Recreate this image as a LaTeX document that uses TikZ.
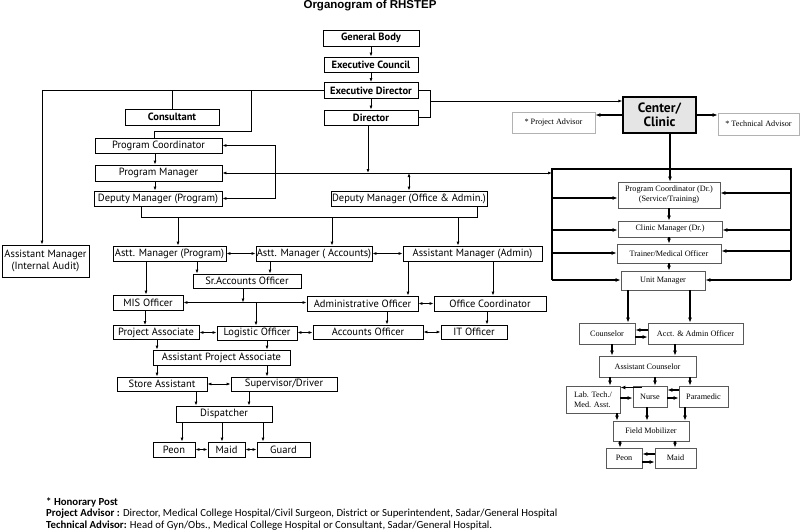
\documentclass[tikz,border=0pt]{standalone}
\usepackage{fontspec}
\setmainfont{PT Sans}
\newfontfamily\serifrm{Liberation Serif}
\newfontfamily\titlefont{Liberation Sans}
\newfontfamily\notefont{Carlito}
\usetikzlibrary{arrows.meta}
\newcommand\vlk[4][arr]{\coordinate (vx) at (#4,0); \draw[#1] (#2.south -| vx) -- (#3.north -| vx);}
\newcommand\hlk[4][darr]{\coordinate (hy) at (0,#4); \draw[#1] (#2.east |- hy) -- (#3.west |- hy);}
\begin{document}
\begin{tikzpicture}[x=1pt,y=-1pt,
  sz/.style 2 args={minimum width=#1, minimum height=#2},
  lb/.style={draw, line width=0.8pt, inner sep=0pt, align=center, font=\fontsize{10.5}{11.5}\selectfont},
  tb/.style={lb, font=\bfseries\fontsize{10.5}{11.5}\selectfont},
  rb/.style={draw=black!65, line width=0.8pt, inner sep=0pt, align=center, font=\serifrm\fontsize{8.2}{10}\selectfont},
  adv/.style={rb, draw=black!30},
  con/.style={line width=0.8pt},
  arr/.style={con, -{Latex[length=4pt,width=3pt]}},
  darr/.style={con, {Latex[length=4pt,width=3pt]}-{Latex[length=4pt,width=3pt]}},
  rcon/.style={line width=1.1pt},
  rarr/.style={rcon, -{Latex[length=5pt,width=4pt]}},
]
\useasboundingbox[fill=white] (0,0) rectangle (800,532);

\node[font=\titlefont\bfseries\fontsize{11.5}{13}\selectfont] (title) at (370,6) {Organogram of RHSTEP};

% top chain
\node[tb, sz={96}{16}] (gb) at (371,38) {General Body};
\node[tb, sz={94}{15}] (ec) at (371,64.5) {Executive Council};
\node[tb, sz={94}{16}] (ed) at (371,90.5) {Executive Director};
\node[tb, sz={94}{15}] (dir) at (371,117.5) {Director};
\node[tb, sz={94}{16}] (cons) at (172,117) {Consultant};

% left column
\node[lb, sz={127}{15}] (pc) at (158.5,145.5) {Program Coordinator};
\node[lb, sz={127}{16}] (pm) at (158.5,173) {Program Manager};
\node[lb, sz={128}{15}] (dmp) at (158,198.5) {Deputy Manager (Program)};
\node[lb, sz={156}{15}] (dmoa) at (409,198.5) {Deputy Manager (Office \& Admin.)};
\node[lb, sz={87}{32}] (amia) at (45.5,261) {Assistant Manager\\(Internal Audit)};
\node[lb, sz={113}{15}] (amp) at (169.5,253.5) {Astt. Manager (Program)};
\node[lb, sz={116}{15}] (amacc) at (314,253.5) {Astt. Manager ( Accounts)};
\node[lb, sz={139}{15}] (amadm) at (472.5,253.5) {Assistant Manager (Admin)};
\node[lb, sz={108}{14}] (sao) at (247,281) {Sr.Accounts Officer};
\node[lb, sz={70}{15}] (mis) at (148,302.5) {MIS Officer};
\node[lb, sz={111}{15}] (ao) at (362.5,303.5) {Administrative Officer};
\node[lb, sz={112}{15}] (oc) at (490,303.5) {Office Coordinator};
\node[lb, sz={86}{14}] (pa) at (156,332.5) {Project Associate};
\node[lb, sz={80}{14}] (lo) at (257,333) {Logistic Officer};
\node[lb, sz={110}{14}] (acco) at (368,332) {Accounts Officer};
\node[lb, sz={66}{14}] (ito) at (474,332) {IT Officer};
\node[lb, sz={137}{15}] (apa) at (221.5,357.5) {Assistant Project Associate};
\node[lb, sz={90}{14}] (sa) at (162,384) {Store Assistant};
\node[lb, sz={106}{14}] (sd) at (284,384) {Supervisor/Driver};
\node[lb, sz={96}{16}] (disp) at (224,414) {Dispatcher};
\node[lb, sz={42}{15}] (peon) at (174,449.5) {Peon};
\node[lb, sz={37}{15}] (maid) at (226.5,449.5) {Maid};
\node[lb, sz={53}{15}] (guard) at (283.5,449.5) {Guard};

% right side
\node[draw, line width=1.3pt, fill=black!10, inner sep=0pt, sz={73}{36}, align=center,
  font=\bfseries\fontsize{13.5}{14}\selectfont] (cc) at (659.5,115) {Center/\\Clinic};
\node[adv, sz={83}{21}] (pja) at (553.5,122.5) {* Project Advisor};
\node[adv, sz={81}{22}] (ta) at (758.5,124) {* Technical Advisor};
\node[rb, sz={102}{26}] (pcd) at (669,195) {Program Coordinator (Dr.)\\(Service/Training)};
\node[rb, sz={104}{16}] (cmd) at (670,229) {Clinic Manager (Dr.)};
\node[rb, sz={104}{19}] (tmo) at (669,253.5) {Trainer/Medical Officer};
\node[rb, sz={84}{19}] (um) at (663,280.5) {Unit Manager};
\node[rb, sz={56}{21}] (couns) at (607,333.5) {Counselor};
\node[rb, sz={95}{21}] (aao) at (695.5,333.5) {Acct. \& Admin Officer};
\node[rb, sz={97}{21}] (ac) at (647.5,366.5) {Assistant Counselor};
\node[rb, sz={54}{27}, align=left] (lab) at (593,399.5) {Lab. Tech./\\Med. Asst.};
\node[rb, sz={34}{21}] (nurse) at (650,396.5) {Nurse};
\node[rb, sz={49}{21}] (para) at (703.5,396.5) {Paramedic};
\node[rb, sz={76}{20}] (fm) at (651,431) {Field Mobilizer};
\node[rb, sz={36}{20}] (rpeon) at (624,458) {Peon};
\node[rb, sz={41}{20}] (rmaid) at (675.5,458) {Maid};

% footnote
\node[anchor=west, inner sep=0pt, font=\notefont\bfseries\fontsize{10.8}{12}\selectfont] (n1) at (46,502) {* Honorary Post};
\node[anchor=west, inner sep=0pt, font=\notefont\fontsize{10.8}{12}\selectfont] (n2) at (46,514) {\textbf{Project Advisor :} Director, Medical College Hospital/Civil Surgeon, District or Superintendent, Sadar/General Hospital};
\node[anchor=west, inner sep=0pt, font=\notefont\fontsize{10.8}{12}\selectfont] (n3) at (46,525.5) {\textbf{Technical Advisor:} Head of Gyn/Obs., Medical College Hospital or Consultant, Sadar/General Hospital.};

% ---- connectors top
\vlk{gb}{ec}{371}
\vlk{ec}{ed}{371}
\vlk{ed}{dir}{371}
\coordinate (edl) at (42,90.5);
\draw[arr] (ed.west) -- (edl) -- (edl |- amia.north);
\coordinate (cxx) at (172,90.5);
\draw[con] (cxx) -- (cons.north);
\coordinate (pcx) at (251,90.5);
\coordinate (pcb) at (154,131);
\draw[con] (pcx) |- (pcb) -- (pcb |- pc.north);
\coordinate (edr) at (430,101);
\draw[con] (ed.east) -| (edr |- dir.east) -- (dir.east);
\draw[arr] (edr) -- (edr -| cc.west);

% long line
\coordinate (ly) at (368,173);
\coordinate (rl) at (552,173);
\draw[arr] (ly |- dir.south) -- (ly);
\draw[darr] (pm.east) -- (pm.east -| rl);
\draw[darr] (dmoa.north |- ly) -- (dmoa.north);
\coordinate (bx) at (275,0);
\draw[darr] (pc.east) -- (pc.east -| bx) -- (dmp.east -| bx) -- (dmp.east);

% program chain
\vlk{pc}{pm}{155}
\vlk{pm}{dmp}{155}

% bus
\coordinate (b1) at (141,217);
\coordinate (b2) at (477,217);
\draw[con] (b1 |- dmp.south) -- (b1) -- (b2) -- (b2 |- dmoa.south);
\coordinate (a1) at (178,217);
\coordinate (a2) at (332,217);
\coordinate (a3) at (458,217);
\draw[arr] (a1) -- (a1 |- amp.north);
\draw[arr] (a2) -- (a2 |- amacc.north);
\draw[arr] (a3) -- (a3 |- amadm.north);

\hlk{amp}{amacc}{253.5}
\hlk{amacc}{amadm}{253.5}
\vlk{amp}{sao}{197}
\vlk{amacc}{sao}{270}
\vlk{amp}{mis}{146}
\vlk{amadm}{ao}{408}
\vlk{amadm}{oc}{493}

\coordinate (sy) at (243,302.5);
\draw[arr] (sao.south -| sy) -- (sy);
\hlk{mis}{ao}{302.5}
\coordinate (ly2) at (256,302.5);
\draw[arr] (ly2) -- (ly2 |- lo.north);
\hlk{ao}{oc}{303.5}
\vlk{mis}{pa}{145}
\vlk{ao}{acco}{387}
\vlk{oc}{ito}{487}
\hlk{pa}{lo}{332.5}
\hlk{lo}{acco}{332.5}
\hlk{acco}{ito}{332}
\vlk{pa}{apa}{157}
\vlk{lo}{apa}{267}
\vlk{apa}{sa}{157}
\vlk{apa}{sd}{267}
\hlk{sa}{sd}{384}
\vlk{sa}{disp}{196}
\vlk{sd}{disp}{249}
\vlk{disp}{peon}{182}
\vlk{disp}{maid}{222}
\vlk{disp}{guard}{263}
\hlk{peon}{maid}{449.5}
\hlk{maid}{guard}{449.5}

% ---- right connectors
\draw[rarr] (cc.west) -- (pja.east |- cc.west);
\draw[rarr] (cc.east) -- (ta.west |- cc.east);
\coordinate (ccx) at (670,0);
\draw[rarr] (cc.south -| ccx) -- (pcd.north -| ccx);
\coordinate (rtl) at (552,169);
\coordinate (rtr) at (791,169);
\coordinate (rbl) at (552,280);
\coordinate (rbr) at (791,280);
\draw[rcon] (rbl) -- (rtl) -- (rtr) -- (rbr);
\coordinate (lq1) at (552,198); \draw[rarr] (lq1) -- (lq1 -| pcd.west);
\coordinate (lq2) at (552,230); \draw[rarr] (lq2) -- (lq2 -| cmd.west);
\coordinate (lq3) at (552,253); \draw[rarr] (lq3) -- (lq3 -| tmo.west);
\draw[rarr] (rbl) -- (rbl -| um.west);
\coordinate (rq1) at (791,193); \draw[rarr] (rq1) -- (rq1 -| pcd.east);
\coordinate (rq2) at (791,230); \draw[rarr] (rq2) -- (rq2 -| cmd.east);
\coordinate (rq3) at (791,251); \draw[rarr] (rq3) -- (rq3 -| tmo.east);
\draw[rarr] (rbr) -- (rbr -| um.east);

\vlk[rarr]{pcd}{cmd}{669}
\vlk[rarr]{cmd}{tmo}{669}
\vlk[rarr]{tmo}{um}{669}
\vlk[rarr]{um}{couns}{628}
\vlk[rarr]{um}{aao}{690}
\coordinate (k1) at (0,330); \draw[rarr] (aao.west |- k1) -- (couns.east |- k1);
\coordinate (k2) at (0,337); \draw[rarr] (couns.east |- k2) -- (aao.west |- k2);
\vlk[rarr]{couns}{ac}{612}
\vlk[rarr]{aao}{ac}{675}
\vlk[rarr]{ac}{lab}{610}
\vlk[rarr]{ac}{nurse}{655}
\vlk[rarr]{ac}{para}{690}
\coordinate (k3) at (642,387.5); \draw[rarr] (k3) -- (k3 -| lab.east);
\coordinate (k4) at (0,398); \draw[rarr] (lab.east |- k4) -- (nurse.west |- k4);
\coordinate (k5) at (0,390); \draw[rarr] (para.west |- k5) -- (nurse.east |- k5);
\draw[rarr] (nurse.east |- k4) -- (para.west |- k4);
\vlk[rarr]{lab}{fm}{617}
\vlk[rarr]{nurse}{fm}{647}
\vlk[rarr]{para}{fm}{685}
\vlk[rarr]{fm}{rpeon}{620}
\vlk[rarr]{fm}{rmaid}{675}
\coordinate (k6) at (0,454); \draw[rarr] (rmaid.west |- k6) -- (rpeon.east |- k6);
\coordinate (k7) at (0,462); \draw[rarr] (rpeon.east |- k7) -- (rmaid.west |- k7);
\end{tikzpicture}
\end{document}
